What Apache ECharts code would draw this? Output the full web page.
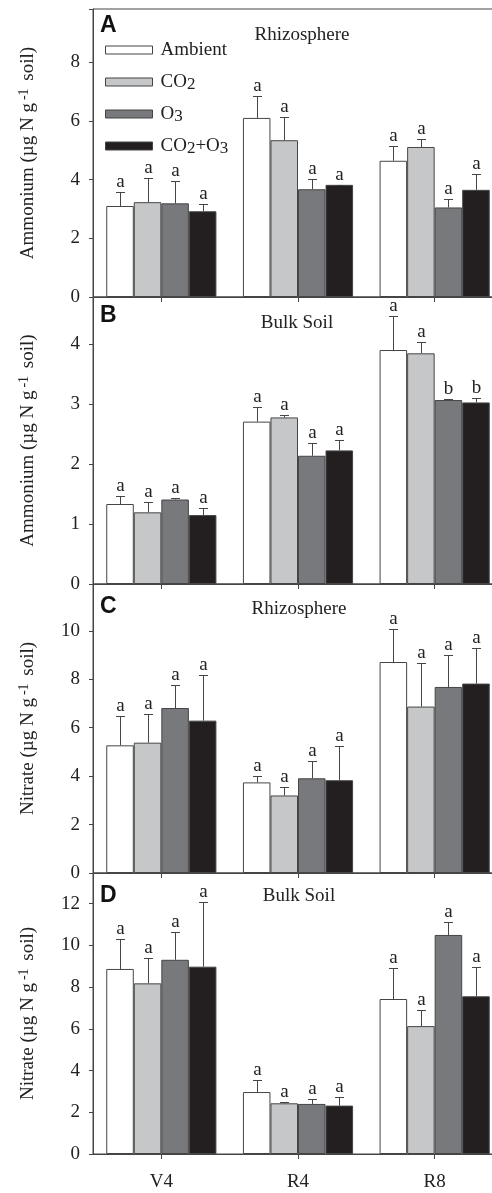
<!DOCTYPE html>
<html><head><meta charset="utf-8">
<script src="https://cdn.jsdelivr.net/npm/echarts@6/dist/echarts.min.js"></script>
<style>html,body{margin:0;padding:0;background:#fff}#c{width:492px;height:1193px}</style>
</head><body><div id="c"></div>
<script>
// ---------- data ----------
const categories = ['V4', 'R4', 'R8'];
const treatments = ['Ambient', 'CO2', 'O3', 'CO2+O3'];

// Panel A: Ammonium, Rhizosphere (rows = treatments, cols = V4,R4,R8)
const nh4RhizoMean = [[3.10, 6.10, 4.64], [3.23, 5.34, 5.11], [3.19, 3.67, 3.05], [2.92, 3.82, 3.65]];
const nh4RhizoSE   = [[0.48, 0.73, 0.52], [0.82, 0.79, 0.27], [0.76, 0.36, 0.30], [0.24, 0.01, 0.53]];
const nh4RhizoLetters = [['a','a','a'], ['a','a','a'], ['a','a','a'], ['a','a','a']];

// Panel B: Ammonium, Bulk Soil
const nh4BulkMean = [[1.335, 2.71, 3.905], [1.196, 2.78, 3.85], [1.41, 2.14, 3.07], [1.15, 2.23, 3.03]];
const nh4BulkSE   = [[0.14, 0.24, 0.575], [0.17, 0.035, 0.19], [0.025, 0.21, 0.02], [0.12, 0.18, 0.07]];
const nh4BulkLetters = [['a','a','a'], ['a','a','a'], ['a','a','b'], ['a','a','b']];

// Panel C: Nitrate, Rhizosphere
const no3RhizoMean = [[5.27, 3.74, 8.71], [5.38, 3.20, 6.87], [6.81, 3.91, 7.68], [6.29, 3.83, 7.82]];
const no3RhizoSE   = [[1.21, 0.27, 1.37], [1.20, 0.34, 1.81], [0.95, 0.73, 1.30], [1.87, 1.43, 1.47]];
const no3RhizoLetters = [['a','a','a'], ['a','a','a'], ['a','a','a'], ['a','a','a']];

// Panel D: Nitrate, Bulk Soil
const no3BulkMean = [[8.87, 2.97, 7.43], [8.18, 2.43, 6.13], [9.31, 2.40, 10.50], [8.98, 2.32, 7.56]];
const no3BulkSE   = [[1.45, 0.56, 1.47], [1.20, 0.06, 0.79], [1.33, 0.24, 0.62], [3.08, 0.40, 1.39]];
const no3BulkLetters = [['a','a','a'], ['a','a','a'], ['a','a','a'], ['a','a','a']];

const panelLetters = ['A', 'B', 'C', 'D'];
const panelTitles = ['Rhizosphere', 'Bulk Soil', 'Rhizosphere', 'Bulk Soil'];
const yNames = ['Ammonium', 'Ammonium', 'Nitrate', 'Nitrate'];
const yMax = [9.81, 4.79, 11.93, 13.47];
const yInterval = [2, 1, 2, 2];

// ---------- layout / style ----------
const SERIF = 'Liberation Serif, Times New Roman, serif';
const SANS = 'Liberation Sans, Arial, sans-serif';
const colors = ['#ffffff', '#c6c7c9', '#78797c', '#231f20'];
const EDGE = '#454545';
const GAP = 0.194;
const grids = [
  {top: 9, height: 288},
  {top: 297, height: 287},
  {top: 584, height: 289},
  {top: 873, height: 281}
];
const titleY = [35, 323, 609, 896];
const titleX = [302, 297, 299, 299];
const letterY = [26, 316, 607, 896];

const means = [nh4RhizoMean, nh4BulkMean, no3RhizoMean, no3BulkMean];
const ses = [nh4RhizoSE, nh4BulkSE, no3RhizoSE, no3BulkSE];
const letters = [nh4RhizoLetters, nh4BulkLetters, no3RhizoLetters, no3BulkLetters];

const series = [];
for (let p = 0; p < 4; p++) {
  for (let t = 0; t < 4; t++) {
    series.push({
      name: treatments[t], type: 'bar', xAxisIndex: p, yAxisIndex: p,
      data: means[p][t], barGap: '0%', barCategoryGap: (GAP * 100) + '%',
      itemStyle: {color: colors[t], borderColor: EDGE, borderWidth: 1},
      emphasis: {disabled: true}, animation: false
    });
  }
  for (let t = 0; t < 4; t++) {
    const data = categories.map((c, i) => [i, means[p][t][i], means[p][t][i] + ses[p][t][i]]);
    series.push({
      type: 'custom', xAxisIndex: p, yAxisIndex: p, data: data, animation: false,
      encode: {x: 0, y: [1, 2]},
      renderItem: function (params, api) {
        const ci = api.value(0);
        const c0 = api.coord([ci, api.value(1)]);
        const c1 = api.coord([ci, api.value(2)]);
        const band = api.size([1, 0])[0];
        const bw = band * (1 - GAP) / 4;
        const x = Math.round(c0[0] - 2 * bw + bw * (t + 0.5)) + 0.5;
        const yTop = Math.round(c1[1]) + 0.5;
        return {type: 'group', children: [
          {type: 'line', shape: {x1: x, y1: c0[1], x2: x, y2: yTop}, style: {stroke: EDGE, lineWidth: 1}},
          {type: 'line', shape: {x1: x - 4.5, y1: yTop, x2: x + 4.5, y2: yTop}, style: {stroke: EDGE, lineWidth: 1}},
          {type: 'text', x: x, y: yTop - 1, style: {text: letters[p][t][params.dataIndex], textAlign: 'center', textVerticalAlign: 'bottom', font: '19px ' + SERIF, fill: '#222'}}
        ]};
      }
    });
  }
}

const xAxes = grids.map((g, p) => ({
  gridIndex: p, type: 'category', data: categories,
  axisLine: {lineStyle: {color: EDGE, width: 1}},
  axisTick: {show: true, alignWithLabel: true, length: 5, lineStyle: {color: EDGE}},
  axisLabel: {show: p === 3, fontFamily: SERIF, fontSize: 19, color: '#222', margin: 19},
  splitLine: {show: false}
}));

const yAxes = grids.map((g, p) => ({
  gridIndex: p, type: 'value', min: 0, max: yMax[p], interval: yInterval[p],
  name: yNames[p] + ' (µg N g{sup|-1} soil)', nameLocation: 'middle', nameRotate: 90, nameGap: 54,
  nameTextStyle: {fontFamily: SERIF, fontSize: 19, color: '#222', rich: {sup: {fontFamily: SERIF, fontSize: 14, verticalAlign: 'top', padding: [0, 3, 8, 3]}}},
  axisLine: {show: true, lineStyle: {color: EDGE, width: 1}},
  axisTick: {show: true, length: 4, lineStyle: {color: EDGE}},
  axisLabel: {fontFamily: SERIF, fontSize: 19, color: '#222', margin: 13,
    formatter: v => (Math.abs(v / yInterval[p] - Math.round(v / yInterval[p])) < 1e-6 ? String(v) : '')},
  splitLine: {show: false}
}));

const graphics = [];
for (let p = 0; p < 4; p++) {
  graphics.push({type: 'text', x: 100, y: letterY[p], style: {text: panelLetters[p], font: 'bold 23px ' + SANS, fill: '#111', textVerticalAlign: 'middle'}});
  graphics.push({type: 'text', x: titleX[p], y: titleY[p], style: {text: panelTitles[p], font: '19px ' + SERIF, fill: '#222', textAlign: 'center', textVerticalAlign: 'middle'}});
}

const subMap = {'Ambient': 'Ambient', 'CO2': 'CO{sub|2}', 'O3': 'O{sub|3}', 'CO2+O3': 'CO{sub|2}+O{sub|3}'};

const chart = echarts.init(document.getElementById('c'), null, {renderer: 'canvas'});
chart.setOption({
  animation: false,
  backgroundColor: '#fff',
  grid: grids.map(g => ({left: 93, width: 410, top: g.top, height: g.height, show: true, borderColor: EDGE, borderWidth: 1, backgroundColor: 'transparent', containLabel: false, outerBoundsMode: 'none'})),
  xAxis: xAxes,
  yAxis: yAxes,
  legend: {
    data: treatments, orient: 'vertical', left: 100, top: 34, itemWidth: 47, itemHeight: 8, itemGap: 5,
    icon: 'rect', selectedMode: false,
    itemStyle: {borderColor: EDGE, borderWidth: 1},
    formatter: n => subMap[n] || n,
    textStyle: {fontFamily: SERIF, fontSize: 19, color: '#222', lineHeight: 22, padding: [0, 0, 0, 3],
      rich: {sub: {fontFamily: SERIF, fontSize: 17, verticalAlign: 'bottom', lineHeight: 17, padding: [10, 0, 0, 0]}}}
  },
  graphic: graphics,
  series: series
});
</script></body></html>
